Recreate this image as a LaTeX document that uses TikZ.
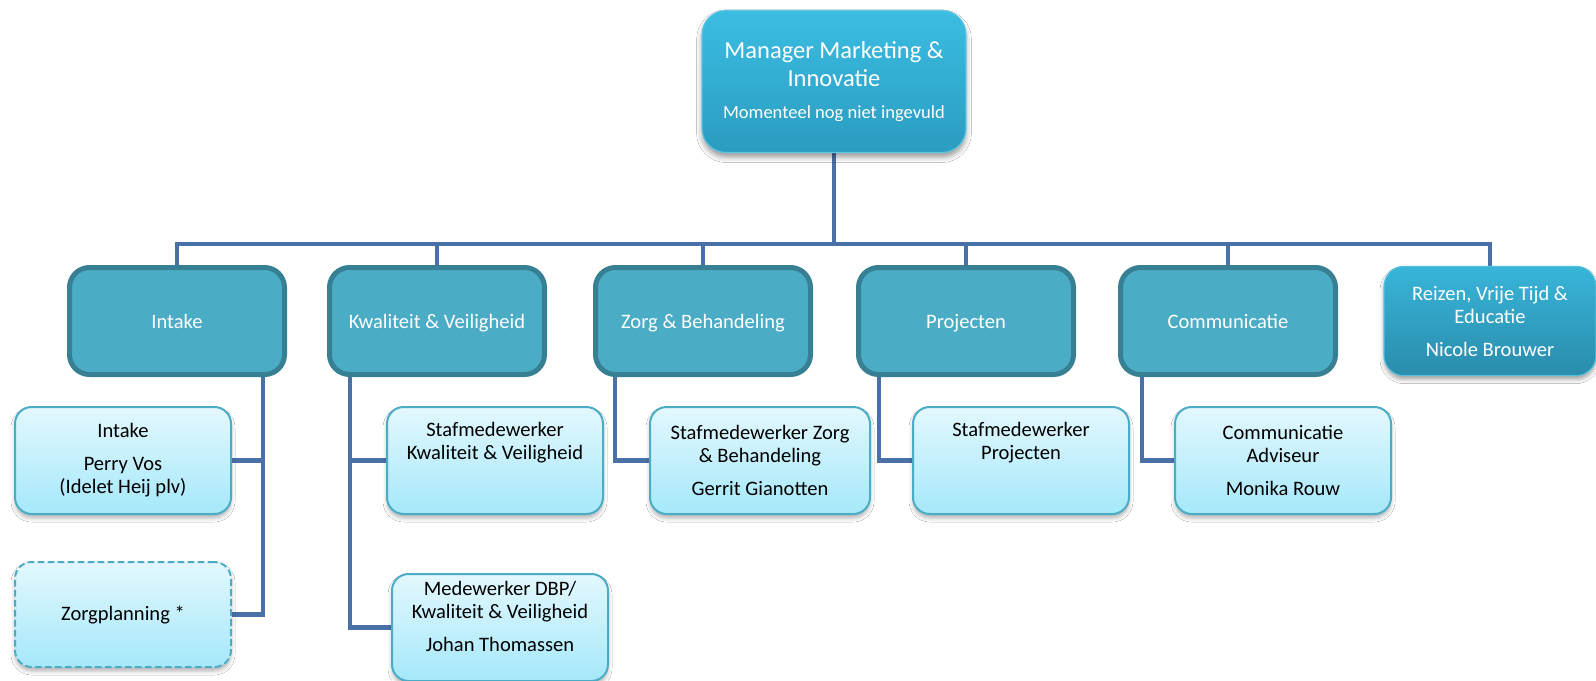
\documentclass[tikz,border=0pt]{standalone}
\usepackage{fontspec}
\setmainfont{Carlito}
\usetikzlibrary{calc,shadows.blur}
\pgfdeclarelayer{background}
\pgfsetlayers{background,main}
\definecolor{conncol}{HTML}{4A70A8}
\definecolor{lvfill}{HTML}{4BACC6}
\definecolor{lvdraw}{HTML}{377F93}
\definecolor{toptop}{HTML}{3BBDE2}
\definecolor{topbot}{HTML}{2A9CC0}
\definecolor{topdraw}{HTML}{5CC6E4}
\definecolor{reitop}{HTML}{38B5D9}
\definecolor{reibot}{HTML}{2A8CAC}
\definecolor{subtop}{HTML}{E3F8FE}
\definecolor{subbot}{HTML}{A5E8FA}
\definecolor{subdraw}{HTML}{4BACC6}
\begin{document}
\begin{tikzpicture}[x=0.75pt,y=-0.75pt,
  conn/.style={draw=conncol, line width=3.6pt},
  basefont/.style={font=\fontsize{15.4}{17.5}\selectfont},
  topbox/.style={rectangle, rounded corners=18pt, top color=toptop, bottom color=topbot,
    draw=topdraw, line width=0.8pt, text=white, align=center, inner sep=2pt,
    minimum width=198pt, minimum height=106.5pt,
    font=\fontsize{18.4}{20.5}\selectfont,
    blur shadow={shadow xshift=0pt, shadow yshift=-3.5pt, shadow blur radius=4pt, shadow opacity=40}},
  lvtwo/.style={rectangle, rounded corners=15pt, fill=lvfill, draw=lvdraw, line width=3.75pt,
    text=white, align=center, inner sep=2pt, basefont, text height=12pt, text depth=1.5pt,
    minimum width=161.25pt, minimum height=80.25pt},
  reibox/.style={rectangle, rounded corners=15pt, top color=reitop, bottom color=reibot,
    draw=reitop!85!white, line width=0.8pt, text=white, align=center, inner sep=2pt, basefont,
    minimum width=159pt, minimum height=82pt,
    blur shadow={shadow xshift=0pt, shadow yshift=-3pt, shadow blur radius=3pt, shadow opacity=35}},
  subbox/.style={rectangle, rounded corners=12.5pt, top color=subtop, bottom color=subbot,
    draw=subdraw, line width=1.5pt, text=black, align=center, inner sep=2pt, basefont,
    minimum width=162pt, minimum height=80.25pt,
    blur shadow={shadow xshift=0pt, shadow yshift=-3pt, shadow blur radius=3pt, shadow opacity=30}},
]
\useasboundingbox (0,0) rectangle (1596,681);

% top
\node[topbox] (mgr) at (834,81.5) {Manager Marketing \&\\Innovatie\\[3.5pt]{\fontsize{13.9}{16}\selectfont Momenteel nog niet ingevuld}};

% level two
\node[lvtwo] (intake) at (177,321) {Intake};
\node[lvtwo] (kv) at (437,321) {Kwaliteit \& Veiligheid};
\node[lvtwo] (zorg) at (703,321) {Zorg \& Behandeling};
\node[lvtwo] (proj) at (966,321) {Projecten};
\node[lvtwo] (comm) at (1228,321) {Communicatie};
\node[reibox] (reizen) at (1490,321) {Reizen, Vrije Tijd \&\\Educatie\\[7pt]Nicole Brouwer};

% level three
\node[subbox] (isub) at (123,460.5) {Intake\\[7pt]Perry Vos\\(Idelet Heij plv)};
\node[subbox, dash pattern=on 5pt off 2.5pt, minimum height=78.75pt] (zp) at (123,614.5) {Zorgplanning *};
\node[subbox] (kvsub) at (495,460.5) {Stafmedewerker\\Kwaliteit \& Veiligheid\\[7pt]\strut};
\node[subbox] (dbp) at (500,627.5) {Medewerker DBP/\\Kwaliteit \& Veiligheid\\[7pt]Johan Thomassen\\[-6.25pt]\strut};
\node[subbox, minimum width=165pt] (zsub) at (760,460.5) {Stafmedewerker Zorg\\\& Behandeling\\[7pt]Gerrit Gianotten};
\node[subbox] (psub) at (1021,460.5) {Stafmedewerker\\Projecten\\[7pt]\strut};
\node[subbox] (csub) at (1283,460.5) {Communicatie\\Adviseur\\[7pt]Monika Rouw};

\begin{pgfonlayer}{background}
  \fill[white] (0,0) rectangle (1596,681);
  \coordinate (bus) at (834,244);
  \draw[conn] (mgr.south) -- (bus);
  \foreach \n in {intake,kv,zorg,proj,comm,reizen}
    \draw[conn] (\n.north) |- (bus);
  \draw[conn] ($(intake.south)+(86,0)$) |- (isub.east);
  \draw[conn] ($(intake.south)+(86,0)$) |- (zp.east);
  \draw[conn] ($(kv.south)+(-87,0)$) |- (kvsub.west);
  \draw[conn] ($(kv.south)+(-87,0)$) |- (dbp.west);
  \draw[conn] ($(zorg.south)+(-88,0)$) |- (zsub.west);
  \draw[conn] ($(proj.south)+(-87,0)$) |- (psub.west);
  \draw[conn] ($(comm.south)+(-86,0)$) |- (csub.west);
\end{pgfonlayer}
\end{tikzpicture}
\end{document}
